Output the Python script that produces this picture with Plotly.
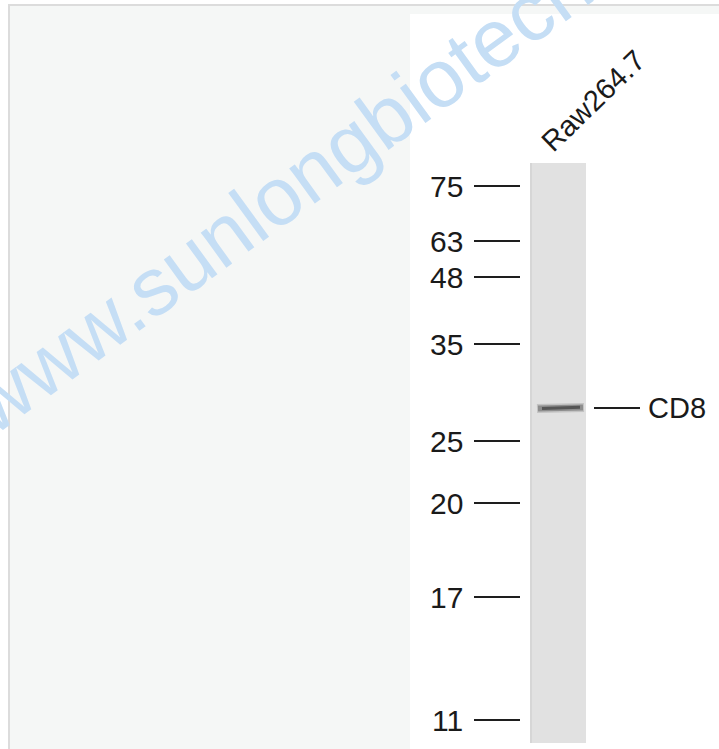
import plotly.graph_objects as go

# ---- data ----
lane_labels = ["Raw264.7"]
marker_kda = ["75", "63", "48", "35", "25", "20", "17", "11"]
marker_rows = [186, 241, 277, 344, 441, 503, 597, 720]   # migration position of each ladder band
target_name = "CD8"
target_row = 408                                          # migration position of detected band
watermark = "www.sunlongbiotech.com"

W, H = 719, 749
FONT = "Liberation Sans, Arial, sans-serif"

fig = go.Figure()

shapes = [
    # outer gray panel
    dict(type="rect", x0=9, x1=W + 5, y0=5, y1=H + 5, fillcolor="#f5f7f6",
         line=dict(color="#dcdcdc", width=2), layer="below"),
    # white blot panel
    dict(type="rect", x0=410, x1=W + 5, y0=14, y1=H + 5, fillcolor="#ffffff",
         line=dict(width=0), layer="below"),
    # lane
    dict(type="rect", x0=530, x1=586, y0=163, y1=743, fillcolor="#e1e1e1",
         line=dict(width=0), layer="below"),
    dict(type="line", x0=531, x1=531, y0=163, y1=743,
         line=dict(color="#d6d6d6", width=2), layer="below"),
]

# ladder ticks
tx, ty = [], []
for r in marker_rows:
    tx += [474, 520, None]
    ty += [r, r, None]
fig.add_trace(go.Scatter(x=tx, y=ty, mode="lines",
                         line=dict(color="#1e1e1e", width=1.8),
                         hoverinfo="skip", showlegend=False))

# detected band (soft halo + core)
fig.add_trace(go.Scatter(x=[537, 560, 584], y=[target_row + 0.5, target_row, target_row - 0.5],
                         mode="lines", line=dict(color="#b0b0b0", width=9),
                         opacity=0.6, hoverinfo="skip", showlegend=False))
fig.add_trace(go.Scatter(x=[538, 560, 583], y=[target_row + 0.5, target_row, target_row - 0.5],
                         mode="lines", line=dict(color="#808080", width=6),
                         opacity=0.8, hoverinfo="skip", showlegend=False))
fig.add_trace(go.Scatter(x=[542, 560, 580], y=[target_row + 0.5, target_row, target_row - 0.8],
                         mode="lines", line=dict(color="#555555", width=3),
                         hoverinfo="skip", showlegend=False))
# target pointer line
fig.add_trace(go.Scatter(x=[594, 640], y=[target_row, target_row], mode="lines",
                         line=dict(color="#1e1e1e", width=1.8),
                         hoverinfo="skip", showlegend=False))

annotations = []
for lab, r in zip(marker_kda, marker_rows):
    annotations.append(dict(x=465, y=r, text=lab, showarrow=False, xanchor="right",
                            yanchor="middle", font=dict(family=FONT, size=30, color="#1a1a1a")))
annotations.append(dict(x=646, y=target_row, text=target_name, showarrow=False,
                        xanchor="left", yanchor="middle",
                        font=dict(family=FONT, size=29, color="#1a1a1a")))
annotations.append(dict(x=593, y=101, text=lane_labels[0], showarrow=False, textangle=-44,
                        xanchor="center", yanchor="middle",
                        font=dict(family=FONT, size=29, color="#1a1a1a")))
annotations.append(dict(x=350, y=142, text=watermark, showarrow=False, textangle=-36,
                        xanchor="center", yanchor="middle",
                        font=dict(family=FONT, size=82, color="#c5def5")))

fig.update_layout(
    width=W, height=H, margin=dict(l=0, r=0, t=0, b=0),
    paper_bgcolor="#ffffff", plot_bgcolor="#ffffff",
    xaxis=dict(range=[0, W], visible=False, fixedrange=True),
    yaxis=dict(range=[H, 0], visible=False, fixedrange=True),
    shapes=shapes, annotations=annotations, showlegend=False,
)
fig.write_html("out.html", config={"displayModeBar": False},
               post_script="document.body.style.margin='0';document.body.style.padding='0';"
                           "document.body.style.overflow='hidden';")
